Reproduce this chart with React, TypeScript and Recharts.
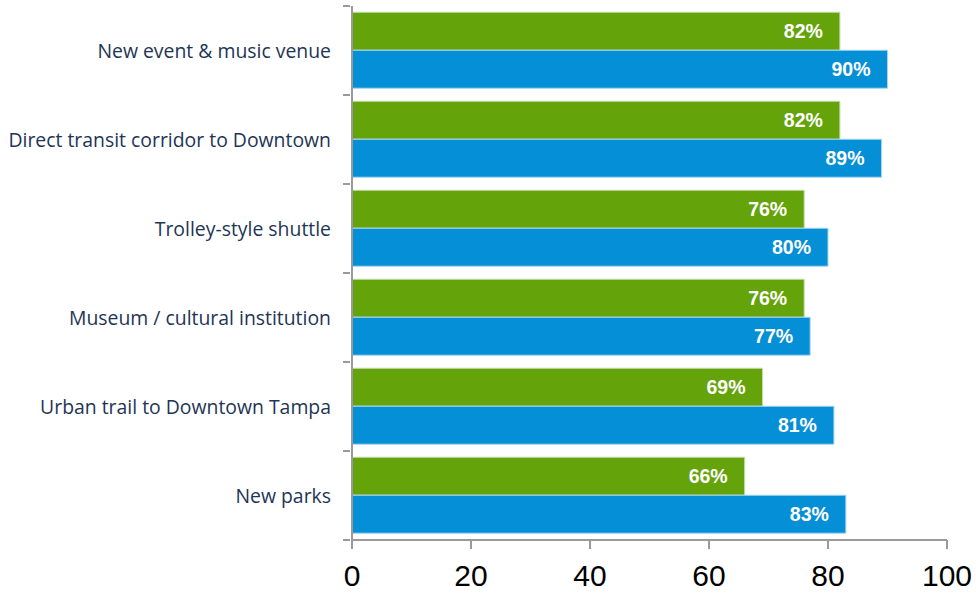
import React from "react";
import { BarChart, Bar, XAxis, YAxis, LabelList } from "recharts";

const categories = [
  "New event & music venue",
  "Direct transit corridor to Downtown",
  "Trolley-style shuttle",
  "Museum / cultural institution",
  "Urban trail to Downtown Tampa",
  "New parks",
];
const greenValues = [82, 82, 76, 76, 69, 66];
const blueValues = [90, 89, 80, 77, 81, 83];
const xTicks = [0, 20, 40, 60, 80, 100];

const data = categories.map((c, i) => ({ name: c, green: greenValues[i], blue: blueValues[i] }));

const W = 976;
const H = 593;
const M = { top: 6, right: 29, bottom: 0, left: 0 };
const Y_W = 352;
const X_H = 53;
const BAND = (H - M.top - M.bottom - X_H) / categories.length;
const AXIS = "#9a9a9a";

const CatTick = (props: any) => {
  const { x, y, payload, index } = props;
  const ax = x;
  return (
    <g>
      <line x1={ax - 7} x2={ax} y1={y - BAND / 2} y2={y - BAND / 2} stroke={AXIS} strokeWidth={2} />
      {index === categories.length - 1 && (
        <line x1={ax - 7} x2={ax} y1={y + BAND / 2} y2={y + BAND / 2} stroke={AXIS} strokeWidth={2} />
      )}
      <text
        x={ax - 19}
        y={y}
        textAnchor="end"
        dominantBaseline="central"
        fontFamily="'Open Sans', 'Noto Sans', sans-serif"
        fontSize={19.4}
        fill="#1e3555"
      >
        {payload.value}
      </text>
    </g>
  );
};

const valueLabelProps = {
  position: "insideRight" as const,
  offset: 17,
  formatter: (v: any) => `${v}%`,
  fill: "#ffffff",
  fontSize: 19.5,
  fontWeight: "bold",
  fontFamily: "'Liberation Sans', Arial, sans-serif",
};

export default function App() {
  return (
    <div style={{ position: "absolute", left: 0, top: 0, width: W, height: H }}>
      <BarChart
        width={W}
        height={H}
        data={data}
        layout="vertical"
        margin={M}
        barCategoryGap="7%"
        barGap={0}
      >
        <XAxis
          type="number"
          domain={[0, 100]}
          ticks={xTicks}
          interval={0}
          height={X_H}
          axisLine={{ stroke: AXIS, strokeWidth: 2 }}
          tickLine={{ stroke: AXIS, strokeWidth: 2 }}
          tickSize={9}
          tick={{ fill: "#000", fontSize: 30, fontFamily: "'Liberation Sans', Arial, sans-serif" }}
          tickMargin={16}
        />
        <YAxis
          type="category"
          dataKey="name"
          width={Y_W}
          axisLine={{ stroke: AXIS, strokeWidth: 2 }}
          tickLine={false}
          tickSize={0}
          tick={<CatTick />}
          interval={0}
        />
        <Bar dataKey="green" fill="#64a30a" stroke="#c8dcb0" strokeWidth={1} isAnimationActive={false}>
          <LabelList dataKey="green" {...valueLabelProps} />
        </Bar>
        <Bar dataKey="blue" fill="#058fd6" stroke="#a8d6f0" strokeWidth={1} isAnimationActive={false}>
          <LabelList dataKey="blue" {...valueLabelProps} />
        </Bar>
      </BarChart>
    </div>
  );
}
